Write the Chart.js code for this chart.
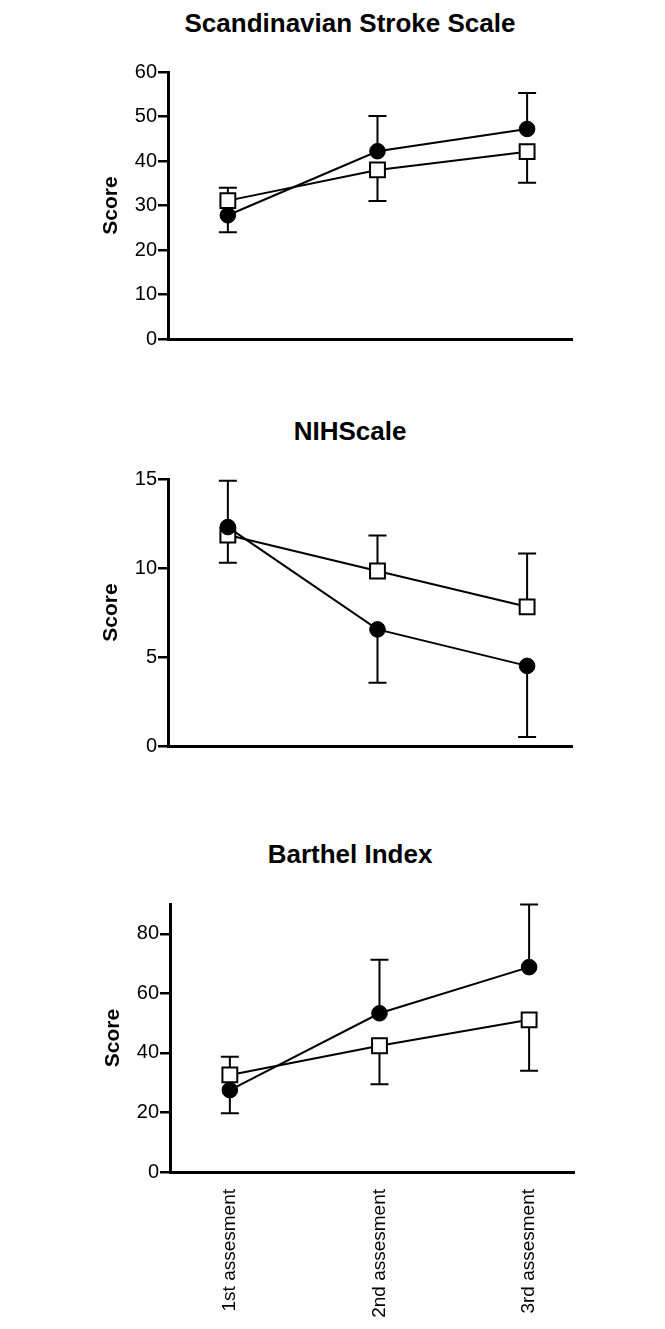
<!DOCTYPE html>
<html>
<head>
<meta charset="utf-8">
<script src="https://cdn.jsdelivr.net/npm/chart.js@4.4.0/dist/chart.umd.min.js"></script>
<style>
body { margin: 0; background: #fff; width: 665px; height: 1329px; overflow: hidden; position: relative; font-family: "Liberation Sans", Arial, sans-serif; }
.ttl { position: absolute; left: 0; width: 700px; text-align: center; font-weight: bold; font-size: 26px; line-height: 26px; color: #000; }
.box { position: absolute; width: 500px; }
</style>
</head>
<body>
<div class="ttl" style="top:10px">Scandinavian Stroke Scale</div>
<div class="box" style="left:98px;top:0px;height:360px"><canvas id="sssChart"></canvas></div>

<div class="ttl" style="top:418px">NIHScale</div>
<div class="box" style="left:98px;top:420px;height:345px"><canvas id="nihChart"></canvas></div>

<div class="ttl" style="top:841px">Barthel Index</div>
<div class="box" style="left:100px;top:840px;height:489px"><canvas id="barthelChart"></canvas></div>

<script>
var assessments = ['1st assesment', '2nd assesment', '3rd assesment'];

// Scandinavian Stroke Scale
var sssFilled = [27.8, 42.2, 47.2];
var sssFilledErr = [-3.8, 7.9, 8.1];
var sssOpen = [31.1, 38.0, 42.1];
var sssOpenErr = [2.9, -7.0, -7.0];
var sssTicks = [0, 10, 20, 30, 40, 50, 60];

// NIH Scale
var nihFilled = [12.3, 6.55, 4.5];
var nihFilledErr = [2.6, -3.0, -4.0];
var nihOpen = [11.85, 9.83, 7.82];
var nihOpenErr = [-1.55, 2.0, 3.0];
var nihTicks = [0, 5, 10, 15];

// Barthel Index
var barFilled = [27.5, 53.3, 68.8];
var barFilledErr = [-7.8, 18.0, 21.0];
var barOpen = [32.6, 42.4, 51.1];
var barOpenErr = [6.1, -12.9, -17.1];
var barTicks = [0, 20, 40, 60, 80];

// one-sided SD bars, drawn under the markers
var errorBars = {
    id: 'errorBars',
    beforeDatasetsDraw: function (chart) {
        var ctx = chart.ctx;
        var xs = chart.scales.x, ys = chart.scales.y;
        ctx.save();
        ctx.strokeStyle = '#000';
        ctx.lineWidth = 2;
        chart.data.datasets.forEach(function (ds) {
            ds.data.forEach(function (pt, i) {
                var x = xs.getPixelForValue(pt.x);
                var y0 = ys.getPixelForValue(pt.y);
                var y1 = ys.getPixelForValue(pt.y + ds.errors[i]);
                ctx.beginPath();
                ctx.moveTo(x, y0);
                ctx.lineTo(x, y1);
                ctx.moveTo(x - 9, y1);
                ctx.lineTo(x + 9, y1);
                ctx.stroke();
            });
        });
        ctx.restore();
    }
};

function toPoints(vals) {
    return vals.map(function (v, i) { return { x: i + 1, y: v }; });
}

function makeChart(id, filled, filledErr, open, openErr, ticks, yMax, pad, xHeight, showLabels) {
    var ctx = document.getElementById(id).getContext('2d');
    return new Chart(ctx, {
        type: 'line',
        data: {
            datasets: [{
                data: toPoints(filled),
                errors: filledErr,
                borderColor: '#000',
                borderWidth: 2,
                pointStyle: 'circle',
                pointRadius: 7.8,
                pointBackgroundColor: '#000',
                pointBorderColor: '#000',
                pointBorderWidth: 1,
                tension: 0,
                clip: false
            }, {
                data: toPoints(open),
                errors: openErr,
                borderColor: '#000',
                borderWidth: 2,
                pointStyle: 'rect',
                pointRadius: 10.5,
                pointBackgroundColor: '#fff',
                pointBorderColor: '#000',
                pointBorderWidth: 2,
                tension: 0,
                clip: false
            }]
        },
        options: {
            responsive: true,
            maintainAspectRatio: false,
            animation: false,
            events: [],
            layout: { padding: pad },
            plugins: { legend: { display: false }, tooltip: { enabled: false } },
            scales: {
                x: {
                    type: 'linear',
                    min: 0.6,
                    max: 3.3,
                    afterBuildTicks: function (scale) {
                        scale.ticks = [1, 2, 3].map(function (v) { return { value: v }; });
                    },
                    afterFit: function (scale) { scale.height = xHeight; },
                    grid: { display: false, drawTicks: false },
                    border: { display: true, color: '#000', width: 3 },
                    ticks: {
                        display: showLabels,
                        autoSkip: false,
                        minRotation: 90,
                        maxRotation: 90,
                        padding: 17,
                        color: '#000',
                        font: { family: '"Liberation Sans", Arial, sans-serif', size: 19 },
                        callback: function (v, i) { return assessments[i]; }
                    }
                },
                y: {
                    min: 0,
                    max: yMax,
                    afterBuildTicks: function (scale) {
                        scale.ticks = ticks.map(function (v) { return { value: v }; });
                    },
                    afterFit: function (scale) { scale.width = 70; },
                    grid: { display: true, drawOnChartArea: false, drawTicks: true, tickLength: 10, lineWidth: 2.5, color: '#000' },
                    border: { display: true, color: '#000', width: 3 },
                    ticks: {
                        padding: 1,
                        color: '#000',
                        font: { family: '"Liberation Sans", Arial, sans-serif', size: 20 }
                    },
                    title: {
                        display: true,
                        text: 'Score',
                        color: '#000',
                        padding: { top: 1, bottom: 0 },
                        font: { family: '"Liberation Sans", Arial, sans-serif', size: 21, weight: 'bold' }
                    }
                }
            }
        },
        plugins: [errorBars]
    });
}

makeChart('sssChart', sssFilled, sssFilledErr, sssOpen, sssOpenErr, sssTicks, 60,
    { top: 72, right: 26, bottom: 21, left: 0 }, 0, false);
makeChart('nihChart', nihFilled, nihFilledErr, nihOpen, nihOpenErr, nihTicks, 15,
    { top: 59, right: 26, bottom: 19, left: 0 }, 0, false);
makeChart('barthelChart', barFilled, barFilledErr, barOpen, barOpenErr, barTicks, 90,
    { top: 64, right: 26, bottom: 0, left: 0 }, 157, true);
</script>
</body>
</html>
